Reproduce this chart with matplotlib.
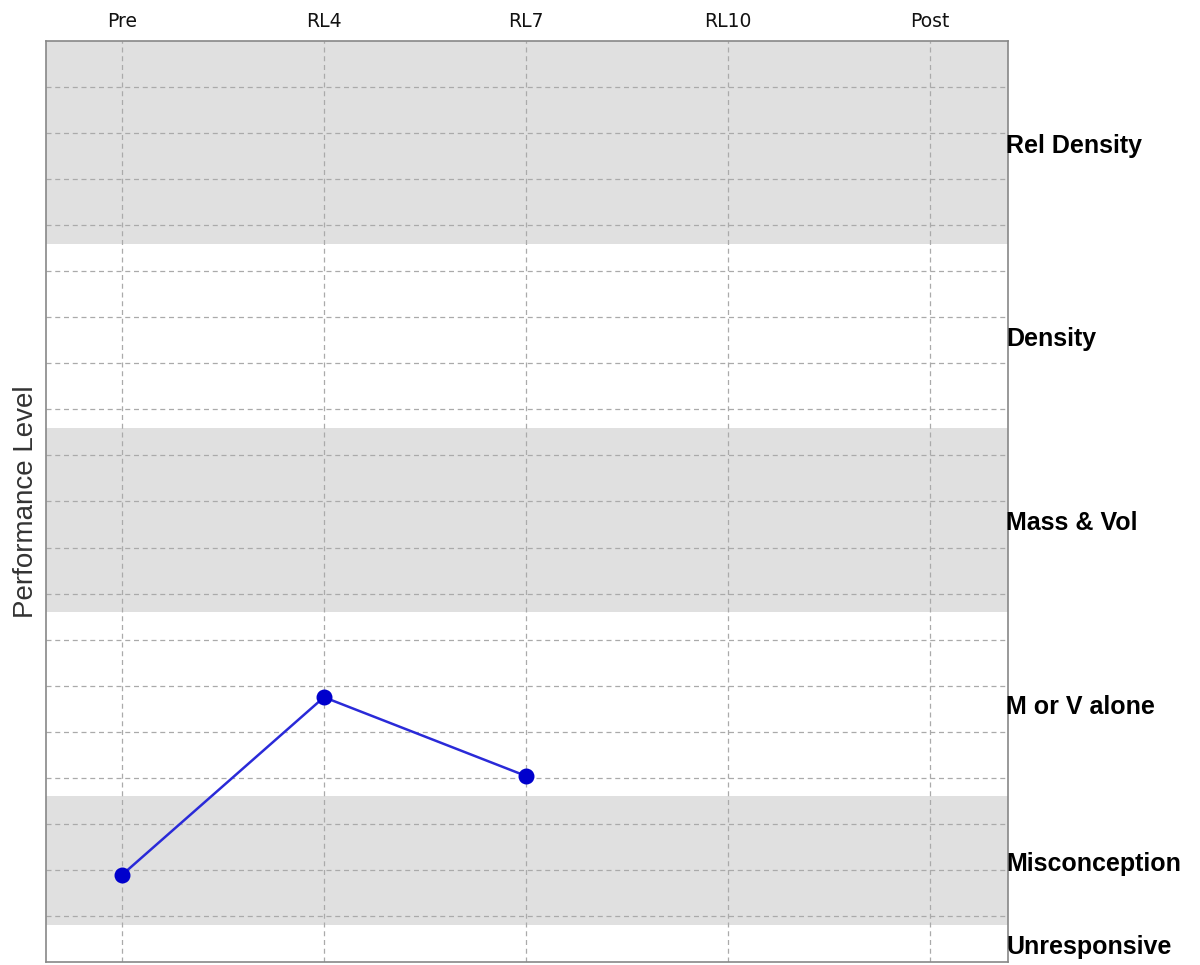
import matplotlib.pyplot as plt

# categories and values
stages = ["Pre", "RL4", "RL7", "RL10", "Post"]
scores = [1.89, 5.75, 4.04]  # only the first three stages have data

levels = ["Unresponsive", "Misconception", "M or V alone", "Mass & Vol", "Density", "Rel Density"]
level_edges = [0.0, 0.8, 3.6, 7.6, 11.6, 15.6, 20.0]
level_shaded = [False, True, False, True, False, True]

fig = plt.figure(figsize=(12, 9.65), dpi=100)
ax = fig.add_axes([46 / 1200, 3 / 965, (1008 - 46) / 1200, (962 - 41) / 965])

# alternating background bands
for lo, hi, shaded in zip(level_edges[:-1], level_edges[1:], level_shaded):
    if shaded:
        ax.axhspan(lo, hi, color="#e0e0e0", zorder=0, lw=0)

# dashed grid
for y in range(1, 20):
    ax.axhline(y, color="#aaaaaa", lw=0.9, ls=(0, (4, 3)), zorder=1)
for i in range(len(stages)):
    ax.axvline(i, color="#aaaaaa", lw=0.9, ls=(0, (4, 3)), zorder=1)

ax.plot(range(len(scores)), scores, color="#2a2ad8", lw=1.8, zorder=3)
ax.scatter(range(len(scores)), scores, s=110, color="#0000cc", zorder=4)

ax.set_xlim(-0.376, 4.386)
ax.set_ylim(0, 20)

ax.set_xticks(range(len(stages)))
ax.set_xticklabels(stages, fontsize=13.5, color="#111111")
ax.xaxis.tick_top()
ax.tick_params(axis="x", length=0, pad=7)
ax.set_yticks([])

# level names on the right side
for lo, hi, name in zip(level_edges[:-1], level_edges[1:], levels):
    ax.text(0.998, (lo + hi) / 2 - 0.07, name, transform=ax.get_yaxis_transform(),
            ha="left", va="center", fontsize=18, fontweight="bold",
            family="Liberation Sans")

ax.set_ylabel("Performance Level", fontsize=20, color="#333333", labelpad=5,
              family="Liberation Sans")

for side in ["left", "right", "top", "bottom"]:
    ax.spines[side].set_color("#888888")
    ax.spines[side].set_linewidth(1.2)

plt.savefig("out.png", dpi=100)
